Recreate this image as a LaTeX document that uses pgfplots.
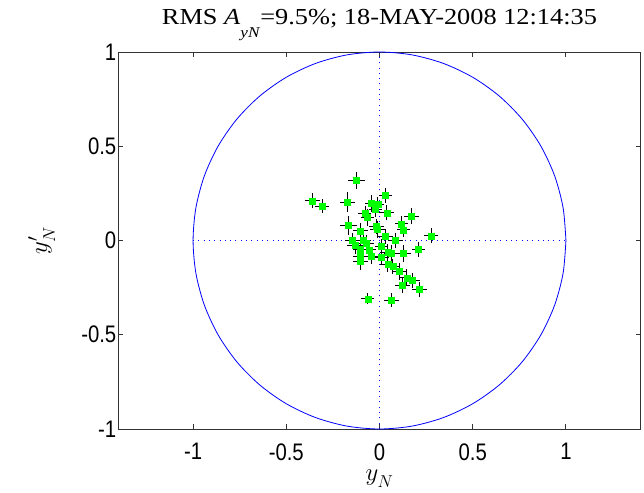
\documentclass[border=0pt]{standalone}
\usepackage{pgfplots}
\pgfplotsset{compat=1.18}
\usepackage{pgfplotstable}
\usepackage{fontspec}
\setmainfont{Liberation Serif}
\newfontfamily\titlefont[FakeStretch=1.15]{Liberation Serif}
\newfontfamily\tickfont[FakeStretch=0.85]{Liberation Sans}

\definecolor{mblue}{RGB}{0,0,255}
\definecolor{mgreen}{RGB}{0,255,0}

% x  y  ex  ey
\pgfplotstableread{
x y ex ey
-0.124 0.319 0.045 0.045
-0.359 0.211 0.040 0.040
-0.308 0.182 0.038 0.036
-0.174 0.204 0.040 0.052
0.032 0.240 0.035 0.040
-0.044 0.196 0.035 0.045
-0.009 0.191 0.035 0.040
-0.023 0.167 0.035 0.040
-0.078 0.144 0.035 0.040
-0.066 0.123 0.035 0.045
0.039 0.147 0.040 0.040
0.172 0.130 0.040 0.040
-0.167 0.081 0.045 0.050
-0.101 0.051 0.040 0.040
-0.012 0.060 0.040 0.045
0.119 0.088 0.035 0.040
0.128 0.056 0.035 0.040
0.276 0.025 0.040 0.040
0.032 0.021 0.040 0.040
0.085 0.000 0.040 0.040
-0.130 -0.025 0.045 0.045
-0.071 -0.014 0.040 0.045
-0.103 -0.046 0.040 0.045
-0.057 -0.049 0.040 0.045
-0.103 -0.084 0.040 0.045
-0.044 -0.084 0.040 0.040
0.009 -0.032 0.035 0.040
0.044 -0.063 0.040 0.045
0.062 -0.070 0.040 0.045
0.009 -0.088 0.040 0.040
0.208 -0.046 0.035 0.040
0.128 -0.070 0.040 0.045
-0.103 -0.109 0.040 0.045
0.044 -0.128 0.040 0.040
0.071 -0.137 0.040 0.040
0.107 -0.163 0.040 0.045
0.146 -0.198 0.040 0.045
0.178 -0.211 0.040 0.040
0.124 -0.239 0.040 0.040
0.213 -0.260 0.040 0.040
-0.062 -0.309 0.035 0.030
0.062 -0.316 0.040 0.035
-0.018 0.074 0.040 0.040
-0.085 0.000 0.040 0.040
-0.145 0.000 0.040 0.040
}\pts

% unit circle, every 10 degrees
\pgfplotstableread{
x y
1 0
0.9848 0.1736
0.9397 0.3420
0.8660 0.5
0.7660 0.6428
0.6428 0.7660
0.5 0.8660
0.3420 0.9397
0.1736 0.9848
0 1
-0.1736 0.9848
-0.3420 0.9397
-0.5 0.8660
-0.6428 0.7660
-0.7660 0.6428
-0.8660 0.5
-0.9397 0.3420
-0.9848 0.1736
-1 0
-0.9848 -0.1736
-0.9397 -0.3420
-0.8660 -0.5
-0.7660 -0.6428
-0.6428 -0.7660
-0.5 -0.8660
-0.3420 -0.9397
-0.1736 -0.9848
0 -1
0.1736 -0.9848
0.3420 -0.9397
0.5 -0.8660
0.6428 -0.7660
0.7660 -0.6428
0.8660 -0.5
0.9397 -0.3420
0.9848 -0.1736
1 0
}\circ

\begin{document}
\begin{tikzpicture}
\begin{axis}[
scale only axis,
width=522bp, height=377bp,
xmin=-1.4, xmax=1.4,
ymin=-1, ymax=1,
axis line style={draw=black!80, line width=0.9bp},
tick align=inside,
major tick length=5bp,
tick style={black!80, line width=0.9bp},
xtick={-1,-0.5,0,0.5,1},
xticklabels={{-1},{-0.5},{0},{0.5},{1}},
ytick={-1,-0.5,0,0.5,1},
yticklabels={{-1},{-0.5},{0},{0.5},{1}},
ticklabel style={font=\tickfont\fontsize{24}{24}\selectfont},
xticklabel style={yshift=-11bp},
yticklabel style={inner sep=2bp},
xlabel={$y_{\raisebox{-4bp}{$\scriptstyle N$}}$},
ylabel={$y'_{\raisebox{-2bp}{$\scriptstyle N$}}$},
label style={font=\fontsize{25}{25}\selectfont},
xlabel style={at={(rel axis cs:0.5,0)}, anchor=north, yshift=-37bp},
ylabel style={at={(rel axis cs:-0.147,0.5)}, anchor=center},
title={\titlefont\fontsize{23}{23}\selectfont RMS \textit{A}\raisebox{-13bp}{\fontsize{15}{15}\selectfont\textit{yN}}=9.5\%; 18-MAY-2008 12:14:35},
title style={at={(rel axis cs:0.5,1)}, anchor=base, yshift=21.5bp},
clip=false,
]
\coordinate (sw) at (rel axis cs:0,0);
\addplot[mblue, line width=0.8bp, smooth] table[x=x,y=y] {\circ};
\addplot[mblue, line width=0.8bp, dash pattern=on 1bp off 4.3bp] coordinates {(-1,0) (1,0)};
\addplot[mblue, line width=0.8bp, dash pattern=on 1bp off 4.3bp] coordinates {(0,-1) (0,1)};
\addplot[only marks, mark=square*, mark size=3bp, mark options={fill=mgreen, draw=mgreen},
  error bars/.cd, x dir=both, y dir=both, x explicit, y explicit,
  error mark=none, error bar style={black, line width=0.9bp}]
  table[x=x, y=y, x error=ex, y error=ey] {\pts};
\end{axis}
\pgfresetboundingbox
\path[use as bounding box] (sw) ++(-118.5bp,-64bp) rectangle ++(644bp,493bp);
\end{tikzpicture}
\end{document}
